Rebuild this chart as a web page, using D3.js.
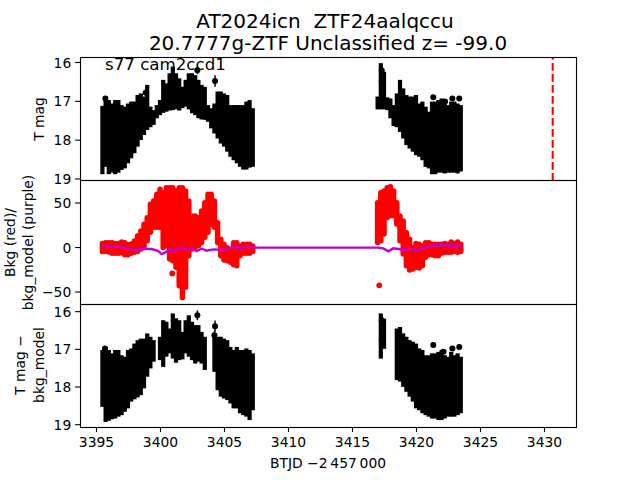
<!DOCTYPE html>
<html>
<head>
<meta charset="utf-8">
<script src="https://cdn.jsdelivr.net/npm/d3@7"></script>
<style>
html,body{margin:0;padding:0;background:#fff}
svg{display:block}
text{font-family:"DejaVu Sans",sans-serif;fill:#000;white-space:pre}
</style>
</head>
<body>
<svg id="c" width="640" height="480"></svg>
<script>
const titleLines = ["AT2024icn  ZTF24aalqccu", "20.7777g-ZTF Unclassified z= -99.0"];
const sectorLabel = "s77 cam2ccd1";
const xTicks = [3395,3400,3405,3410,3415,3420,3425,3430];
const magTicks = [16,17,18,19];
const bkgTicks = [50,0,-50];
const eventDay = 3430.68;

const days1 = [3395.5,3395.75,3396,3396.25,3396.5,3396.75,3397,3397.25,3397.5,3397.75,3398,3398.25,3398.5,3398.75,3399,3399.25,3399.5,3399.75,3400,3400.25,3400.5,3400.75,3401,3401.25,3401.5,3401.75,3402,3402.25,3402.5,3402.75,3403,3403.25,3403.5,3403.75,3404,3404.25,3404.5,3404.75,3405,3405.25,3405.5,3405.75,3406,3406.25,3406.5,3406.75,3407,3407.25];
const days2 = [3417,3417.25,3417.5,3417.75,3418,3418.25,3418.5,3418.75,3419,3419.25,3419.5,3419.75,3420,3420.25,3420.5,3420.75,3421,3421.25,3421.5,3421.75,3422,3422.25,3422.5,3422.75,3423,3423.25,3423.5];

const magTop1 = [17.13,16.89,16.98,17.07,16.98,16.98,17.11,17.15,17.07,17.02,17.02,16.85,16.81,16.89,16.59,17.15,17.24,17.11,16.98,16.46,16.55,16.29,16.12,16.29,16.42,16.64,16.46,16.29,16.29,16.34,16.46,16.59,16.64,17.11,17.19,17.07,16.76,16.76,16.81,16.85,17.11,17.11,17.11,17.11,17.11,17.02,16.98,17.19];
const magBot1 = [18.89,18.70,18.89,18.85,18.89,18.85,18.78,18.74,18.61,18.48,18.35,18.18,18.01,17.88,17.75,17.68,17.62,17.45,17.37,17.31,17.28,17.25,17.24,17.22,17.25,17.19,17.15,17.22,17.32,17.37,17.45,17.48,17.49,17.54,17.71,17.84,17.97,18.10,18.18,18.31,18.44,18.53,18.61,18.70,18.77,18.77,18.72,18.70];
const magTop2 = [16.89,16.03,16.25,16.91,16.94,17.11,16.81,16.46,16.68,16.85,16.89,16.89,16.85,17.07,17.02,17.15,17.28,17.02,17.02,16.98,16.94,16.98,17.11,17.02,17.02,17.07,17.11];
const magBot2 = [17.22,17.22,17.22,17.24,17.45,17.65,17.68,17.80,17.97,18.14,18.23,18.31,18.40,18.44,18.53,18.70,18.74,18.89,18.89,18.85,18.85,18.87,18.85,18.85,18.85,18.87,18.82];
const magOutDays = [3395.73,3398.88,3402.92,3404.3,3417.32,3417.32,3421.35,3422.27,3422.84,3423.38];
const magOutVals = [16.94,16.79,16.21,16.49,16.21,16.51,16.91,17.02,16.94,16.94];
const magOutErrs = [0.05,0.1,0.1,0.15,0.1,0.1,0.04,0.04,0.04,0.04];

const bkgTop1 = [4.1,4.9,4.9,4.9,4.1,4.1,5.6,4.9,2.6,3.4,6.7,12.4,18,25.5,33,48,51.7,59.2,64.8,61,66.7,66.7,66.7,62.9,66.7,66.7,62.9,51.7,34.8,34.8,33,40.4,49.8,59.2,59.2,51.7,27.3,8.6,3,-0.8,-4.5,4.9,4.9,1.1,3,3,3,1.1];
const bkgBot1 = [-4.9,-4.9,-5.6,-7.1,-7.1,-7.1,-6.4,-8.6,-8.6,-7.1,-6,-4.9,-2.2,0.4,7.1,16.5,22.1,22.1,22.1,-0.4,1.5,-13.5,-15.4,-22.8,-43.4,-56.6,-45.3,-9.7,-2.2,-0.4,1.5,5.2,10.9,16.5,25.8,22.1,5.2,-9.7,-14.6,-15.4,-17.2,-19.8,-21,-9.7,-7.1,-7.1,-7.1,-4.9];
const bkgTop2 = [49.8,61,62.9,66.7,67.8,62.9,49.8,34.8,29.2,16.1,8.6,-0.8,4.1,3,1.1,4.9,4.9,3,3,3,3,4.1,3,5.6,4.1,5.6,3];
const bkgBot2 = [5.2,7.1,14.6,33.3,35.2,35.2,25.8,7.1,-7.9,-21,-25.8,-24.7,-22.8,-23.6,-21,-11.6,-8.6,-8.6,-9.7,-9.7,-7.1,-6,-6,-6,-4.9,-6,-4.9];
const bkgOutDays = [3400.96,3417.13];
const bkgOutVals = [-29.6,-43];

const modelDays = [3395.44,3396.88,3397.66,3398.05,3398.7,3399.35,3399.87,3400.13,3400.39,3400.78,3401.04,3401.56,3402.08,3402.47,3402.86,3403.25,3403.65,3404.17,3404.95,3405.73,3406.25,3406.9,3407.29,3417.06,3417.45,3417.84,3418.23,3418.62,3419.14,3419.53,3420.05,3420.57,3421.22,3421.74,3423.56];
const modelVals = [1.1,0.4,-1.5,-3.4,-2.2,-2.2,-4.5,-7.9,-6.4,-2.2,-5.2,-0.7,-2.6,-1.5,-4.5,-1.9,-4.1,-2.6,-3.4,0.4,-1.1,0.4,-0.7,-0.7,-1.5,-4.9,-1.5,-2.2,-3.4,-1.5,-4.1,-0.7,1.1,2.2,1.1];

const subDays1 = days1;
const subTop1 = [17.03,16.95,17.03,17.12,17.03,17.03,17.17,17.21,17.03,16.99,16.86,16.77,16.73,16.73,16.59,16.68,16.77,null,16.68,16.24,16.28,16.46,16.06,16.19,16.24,16.55,16.24,16.11,16.28,16.37,16.37,16.55,16.68,null,null,16.59,16.68,16.68,16.73,16.77,16.95,17.03,16.95,17.03,17.03,16.99,17.03,17.12];
const subBot1 = [18.54,18.94,18.91,18.87,18.85,18.80,18.76,18.67,18.58,18.40,18.34,18.29,18.23,18.05,17.74,17.52,17.34,null,17.30,17.48,17.21,17.12,17.26,17.37,17.30,17.28,17.12,17.21,17.30,17.39,17.34,17.39,17.56,null,null,17.61,18.10,18.27,18.32,18.36,18.45,18.58,18.58,18.71,18.76,18.80,18.89,18.63];
const subTop2 = [null,16.06,16.2,null,null,null,16.46,16.42,16.59,16.68,16.77,16.81,16.86,16.99,17.03,17.17,17.17,17.12,17.12,17.08,17.03,17.17,17.21,17.08,17.17,17.12,17.21];
const subBot2 = [null,17.26,17.0,null,null,null,17.83,17.87,18.01,18.14,18.27,18.40,18.58,18.63,18.71,18.76,18.80,18.85,18.85,18.89,18.89,18.85,18.80,18.80,18.80,18.76,18.71];
const subOutDays = [3395.7,3402.92,3404.3,3404.25,3417.32,3417.32,3421.35,3422.15,3422.84,3423.38];
const subOutVals = [16.99,16.11,16.40,16.64,16.24,16.77,16.90,17.08,16.99,16.95];
const subOutErrs = [0.05,0.13,0.15,0.1,0.1,0.1,0.04,0.04,0.04,0.04];

const L = 80, R = 576, T = 57.6, H = 123.2;
const svg = d3.select("#c");
const x = d3.scaleLinear().domain([3393.75, 3432.5]).range([L, R]);
const yMag = d3.scaleLinear().domain([15.887, 19.06]).range([T, T + H]);
const yBkg = d3.scaleLinear().domain([74.4, -64]).range([T + H, T + 2 * H]);
const ySub = d3.scaleLinear().domain([15.81, 19.08]).range([T + 2 * H, T + 3 * H]);

function columns(days, top, bot, y, color, width, cap) {
  svg.append("g").selectAll("line")
    .data(days.map((d, i) => ({d, t: top[i], b: bot[i]})).filter(p => p.t !== null))
    .join("line")
    .attr("x1", p => x(p.d)).attr("x2", p => x(p.d))
    .attr("y1", p => y(p.t)).attr("y2", p => y(p.b))
    .attr("stroke", color).attr("stroke-width", width).attr("stroke-linecap", cap);
}
function outliers(days, vals, errs, y, color, r) {
  const pts = days.map((d, i) => ({d, v: vals[i], e: errs ? errs[i] : 0}));
  const g = svg.append("g");
  g.selectAll("line").data(pts).join("line")
    .attr("x1", p => x(p.d)).attr("x2", p => x(p.d))
    .attr("y1", p => y(p.v - p.e)).attr("y2", p => y(p.v + p.e))
    .attr("stroke", color).attr("stroke-width", 1.5);
  g.selectAll("circle").data(pts).join("circle")
    .attr("cx", p => x(p.d)).attr("cy", p => y(p.v)).attr("r", r).attr("fill", color);
}
function yAxis(y, ticks) {
  const g = svg.append("g").attr("transform", `translate(${L},0)`)
    .call(d3.axisLeft(y).tickValues(ticks).tickSize(4.86).tickPadding(3.9).tickFormat(d => d < 0 ? "\u2212" + (-d) : d));
  g.select(".domain").remove();
  g.selectAll("line").attr("stroke", "#000").attr("stroke-width", 1.1);
  g.selectAll("text").attr("font-size", 13.89).attr("font-family", "DejaVu Sans").attr("dy", "0.37em");
}
function spine(i) {
  const y0 = Math.floor(T + i * H) + 0.5, y1 = Math.floor(T + (i + 1) * H) + 0.5;
  svg.append("rect").attr("x", L + 0.5).attr("y", y0).attr("width", R - L).attr("height", y1 - y0)
    .attr("fill", "none").attr("stroke", "#000").attr("stroke-width", 1.1);
}
function yLabel(cx, cy, txt) {
  svg.append("text").attr("transform", `translate(${cx},${cy}) rotate(-90)`)
    .attr("text-anchor", "middle").attr("font-size", 13.89).text(txt);
}

// top panel
columns(days1, magTop1, magBot1, yMag, "#000", 4.2, "butt");
columns(days2, magTop2, magBot2, yMag, "#000", 4.2, "butt");
outliers(magOutDays, magOutVals, magOutErrs, yMag, "#000", 3);
svg.append("line").attr("x1", x(eventDay)).attr("x2", x(eventDay))
  .attr("y1", T + H).attr("y2", T)
  .attr("stroke", "#f00").attr("stroke-width", 2.08).attr("stroke-dasharray", "7.7 3.3");

// middle panel
columns(days1, bkgTop1, bkgBot1, yBkg, "#f00", 5.5, "round");
columns(days2, bkgTop2, bkgBot2, yBkg, "#f00", 5.5, "round");
outliers(bkgOutDays, bkgOutVals, null, yBkg, "#f00", 2.9);
svg.append("path")
  .attr("d", d3.line().x(i => x(modelDays[i])).y(i => yBkg(modelVals[i]))(d3.range(modelDays.length)))
  .attr("fill", "none").attr("stroke", "#c000d4").attr("stroke-width", 2.4);

// bottom panel
columns(subDays1, subTop1, subBot1, ySub, "#000", 4.2, "butt");
columns(days2, subTop2, subBot2, ySub, "#000", 4.2, "butt");
outliers(subOutDays, subOutVals, subOutErrs, ySub, "#000", 3);

[0, 1, 2].forEach(spine);
yAxis(yMag, magTicks);
yAxis(yBkg, bkgTicks);
yAxis(ySub, magTicks);

const gx = svg.append("g").attr("transform", `translate(0,${T + 3 * H})`)
  .call(d3.axisBottom(x).tickValues(xTicks).tickSize(4.86).tickPadding(5.5).tickFormat(d3.format("d")));
gx.select(".domain").remove();
gx.selectAll("line").attr("stroke", "#000").attr("stroke-width", 1.1);
gx.selectAll("text").attr("font-size", 13.89).attr("font-family", "DejaVu Sans");

svg.append("text").attr("x", 325).attr("y", 27.5).attr("text-anchor", "middle").attr("font-size", 20).text(titleLines[0]);
svg.append("text").attr("x", 328).attr("y", 49.5).attr("text-anchor", "middle").attr("font-size", 20).text(titleLines[1]);
svg.append("text").attr("x", 105).attr("y", 70).attr("font-size", 16.67).text(sectorLabel);
svg.append("text").attr("x", 328).attr("y", 468).attr("text-anchor", "middle").attr("font-size", 13.89).text("BTJD \u22122\u2009457\u2009000");

yLabel(44, 119, "T mag");
yLabel(15, 242.5, "Bkg (red)/");
yLabel(33, 242.5, "bkg_model (purple)");
yLabel(25, 365, "T mag \u2212");
yLabel(44, 365, "bkg_model");
</script>
</body>
</html>
